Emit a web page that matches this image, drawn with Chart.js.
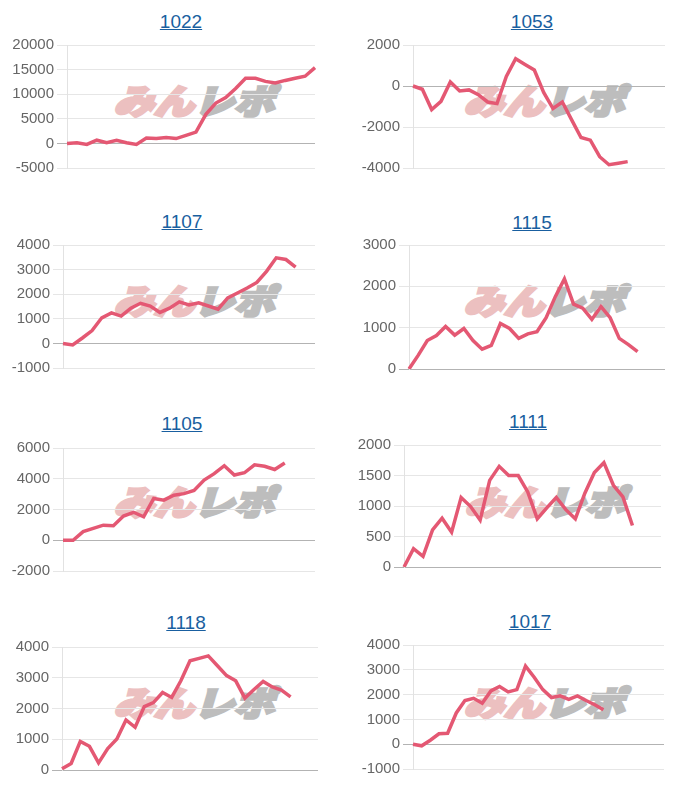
<!DOCTYPE html>
<html><head><meta charset="utf-8">
<script src="https://cdn.jsdelivr.net/npm/chart.js@4.4.0/dist/chart.umd.min.js"></script>
<style>
body{margin:0;background:#fff;width:700px;height:800px;position:relative;overflow:hidden;font-family:"Liberation Sans",Arial,sans-serif}
.title{position:absolute;font-size:19px;line-height:19px;color:rgb(25,95,160);text-decoration:underline;white-space:nowrap;transform:translateX(-50%)}
.wm{position:absolute;font-family:"Noto Sans CJK JP",sans-serif;font-weight:900;font-size:34px;line-height:34px;transform:translate(-50%,-50%) scale(1.18,1) skewX(-14deg);white-space:nowrap}
.wm .a{color:#ecc0c0;-webkit-text-stroke:3px #ecc0c0}
.wm .b{color:#bdbdbd;-webkit-text-stroke:3px #bdbdbd}
canvas{position:absolute}
</style></head><body>
<script>
// ---- data ----
const titles = ["1022","1053","1107","1115","1105","1111","1118","1017"];
const labelCounts = [26, 28, 27, 29, 26, 28, 29, 30];

const v1022 = [0, 130, -200, 650, 130, 650, 130, -200, 1100, 980, 1180, 980, 1640, 2300, 5900, 8200, 9300, 11150, 13250, 13250, 12600, 12270, 12800, 13250, 13650, 15400];
const v1053 = [0, -160, -1150, -750, 200, -240, -190, -420, -780, -860, 470, 1330, 1050, 780, -310, -1100, -780, -1650, -2510, -2640, -3450, -3840, -3770, -3690];
const v1107 = [0, -65, 220, 520, 1040, 1240, 1110, 1430, 1630, 1520, 1260, 1430, 1690, 1560, 1650, 1520, 1390, 1850, 2050, 2250, 2480, 2930, 3480, 3410, 3100];
const v1115 = [0, 330, 690, 810, 1030, 820, 980, 690, 480, 570, 1100, 980, 740, 850, 900, 1240, 1750, 2180, 1570, 1470, 1200, 1510, 1240, 740, 590, 420];
const v1105 = [0, 0, 560, 770, 980, 940, 1570, 1820, 1530, 2720, 2610, 2930, 3030, 3240, 3910, 4330, 4850, 4240, 4390, 4910, 4810, 4600, 5020];
const v1111 = [0, 300, 175, 610, 800, 570, 1140, 990, 770, 1420, 1650, 1500, 1500, 1230, 790, 970, 1140, 940, 790, 1210, 1550, 1710, 1340, 1150, 680];
const v1118 = [40, 210, 930, 770, 230, 700, 1010, 1630, 1390, 2060, 2190, 2520, 2360, 2900, 3550, 3630, 3710, 3390, 3070, 2900, 2340, 2620, 2880, 2700, 2600, 2380];
const v1017 = [0, -65, 160, 420, 440, 1260, 1760, 1850, 1650, 2150, 2330, 2110, 2200, 3150, 2700, 2200, 1880, 1950, 1810, 1950, 1760, 1590, 1390];
const seriesValues = [v1022, v1053, v1107, v1115, v1105, v1111, v1118, v1017];

const yMins  = [-5000, -4000, -1000, 0, -2000, 0, 0, -1000];
const yMaxs  = [20000, 2000, 4000, 3000, 6000, 2000, 4000, 4000];
const ySteps = [5000, 2000, 1000, 1000, 2000, 500, 1000, 1000];

// ---- layout (plot area boxes, title positions) ----
const layoutBoxes = [
  {L:67, R:315, T:43, B:170, tx:181, tb:28, wx:198, wy:100},
  {L:413,R:665, T:43, B:170, tx:532, tb:28, wx:548, wy:100},
  {L:63, R:315, T:243,B:370, tx:182, tb:228,wx:198, wy:300},
  {L:409,R:665, T:243,B:371, tx:532, tb:229,wx:548, wy:300},
  {L:63, R:315, T:446,B:573, tx:182, tb:430,wx:198, wy:501},
  {L:404,R:661, T:443,B:569, tx:528, tb:428,wx:549, wy:501},
  {L:62, R:318, T:645,B:772, tx:186, tb:629,wx:198, wy:702},
  {L:413,R:664, T:643,B:771, tx:530, tb:628,wx:548, wy:702}
];

const AXW = 60, PADT = 10, PADB = 10, PADR = 8;

titles.forEach((t, i) => {
  const lb = layoutBoxes[i];
  const wm = document.createElement('div');
  wm.className = 'wm';
  wm.style.left = lb.wx + 'px';
  wm.style.top = lb.wy + 'px';
  wm.innerHTML = '<span class="a">みん</span><span class="b">レポ</span>';
  document.body.appendChild(wm);

  const a = document.createElement('a');
  a.className = 'title';
  a.href = '#';
  a.textContent = t;
  a.style.left = lb.tx + 'px';
  a.style.top = (lb.tb - 16) + 'px';
  document.body.appendChild(a);

  const c = document.createElement('canvas');
  const w = lb.R - lb.L + AXW + PADR;
  const h = lb.B - lb.T + PADT + PADB;
  c.width = w; c.height = h;
  c.style.width = w + 'px'; c.style.height = h + 'px';
  c.style.left = (lb.L - AXW) + 'px';
  c.style.top = (lb.T - PADT) + 'px';
  document.body.appendChild(c);

  const labels = Array.from({length: labelCounts[i]}, (_, k) => String(k + 1));

  new Chart(c, {
    type: 'line',
    data: {
      labels: labels,
      datasets: [{
        data: seriesValues[i],
        borderColor: 'rgb(228,88,115)',
        backgroundColor: 'rgb(228,88,115)',
        borderWidth: 3.5,
        pointRadius: 0,
        fill: false,
        tension: 0
      }]
    },
    options: {
      responsive: false,
      animation: false,
      devicePixelRatio: 1,
      layout: {padding: {left: 0, right: PADR, top: PADT, bottom: PADB}},
      plugins: {legend: {display: false}, tooltip: {enabled: false}},
      scales: {
        x: {display: false},
        y: {
          min: yMins[i], max: yMaxs[i],
          ticks: {stepSize: ySteps[i], color: '#666', padding: 3,
                  font: {size: 15, family: '"Liberation Sans", Arial, sans-serif'},
                  callback: v => String(v)},
          grid: {
            color: ctx => (ctx.tick && ctx.tick.value === 0) ? '#b3b3b3' : '#e6e6e6',
            tickLength: 10, lineWidth: 1
          },
          border: {display: true, color: '#e2e2e2'},
          afterFit: s => { s.width = AXW; }
        }
      }
    }
  });
});
</script>
</body></html>
